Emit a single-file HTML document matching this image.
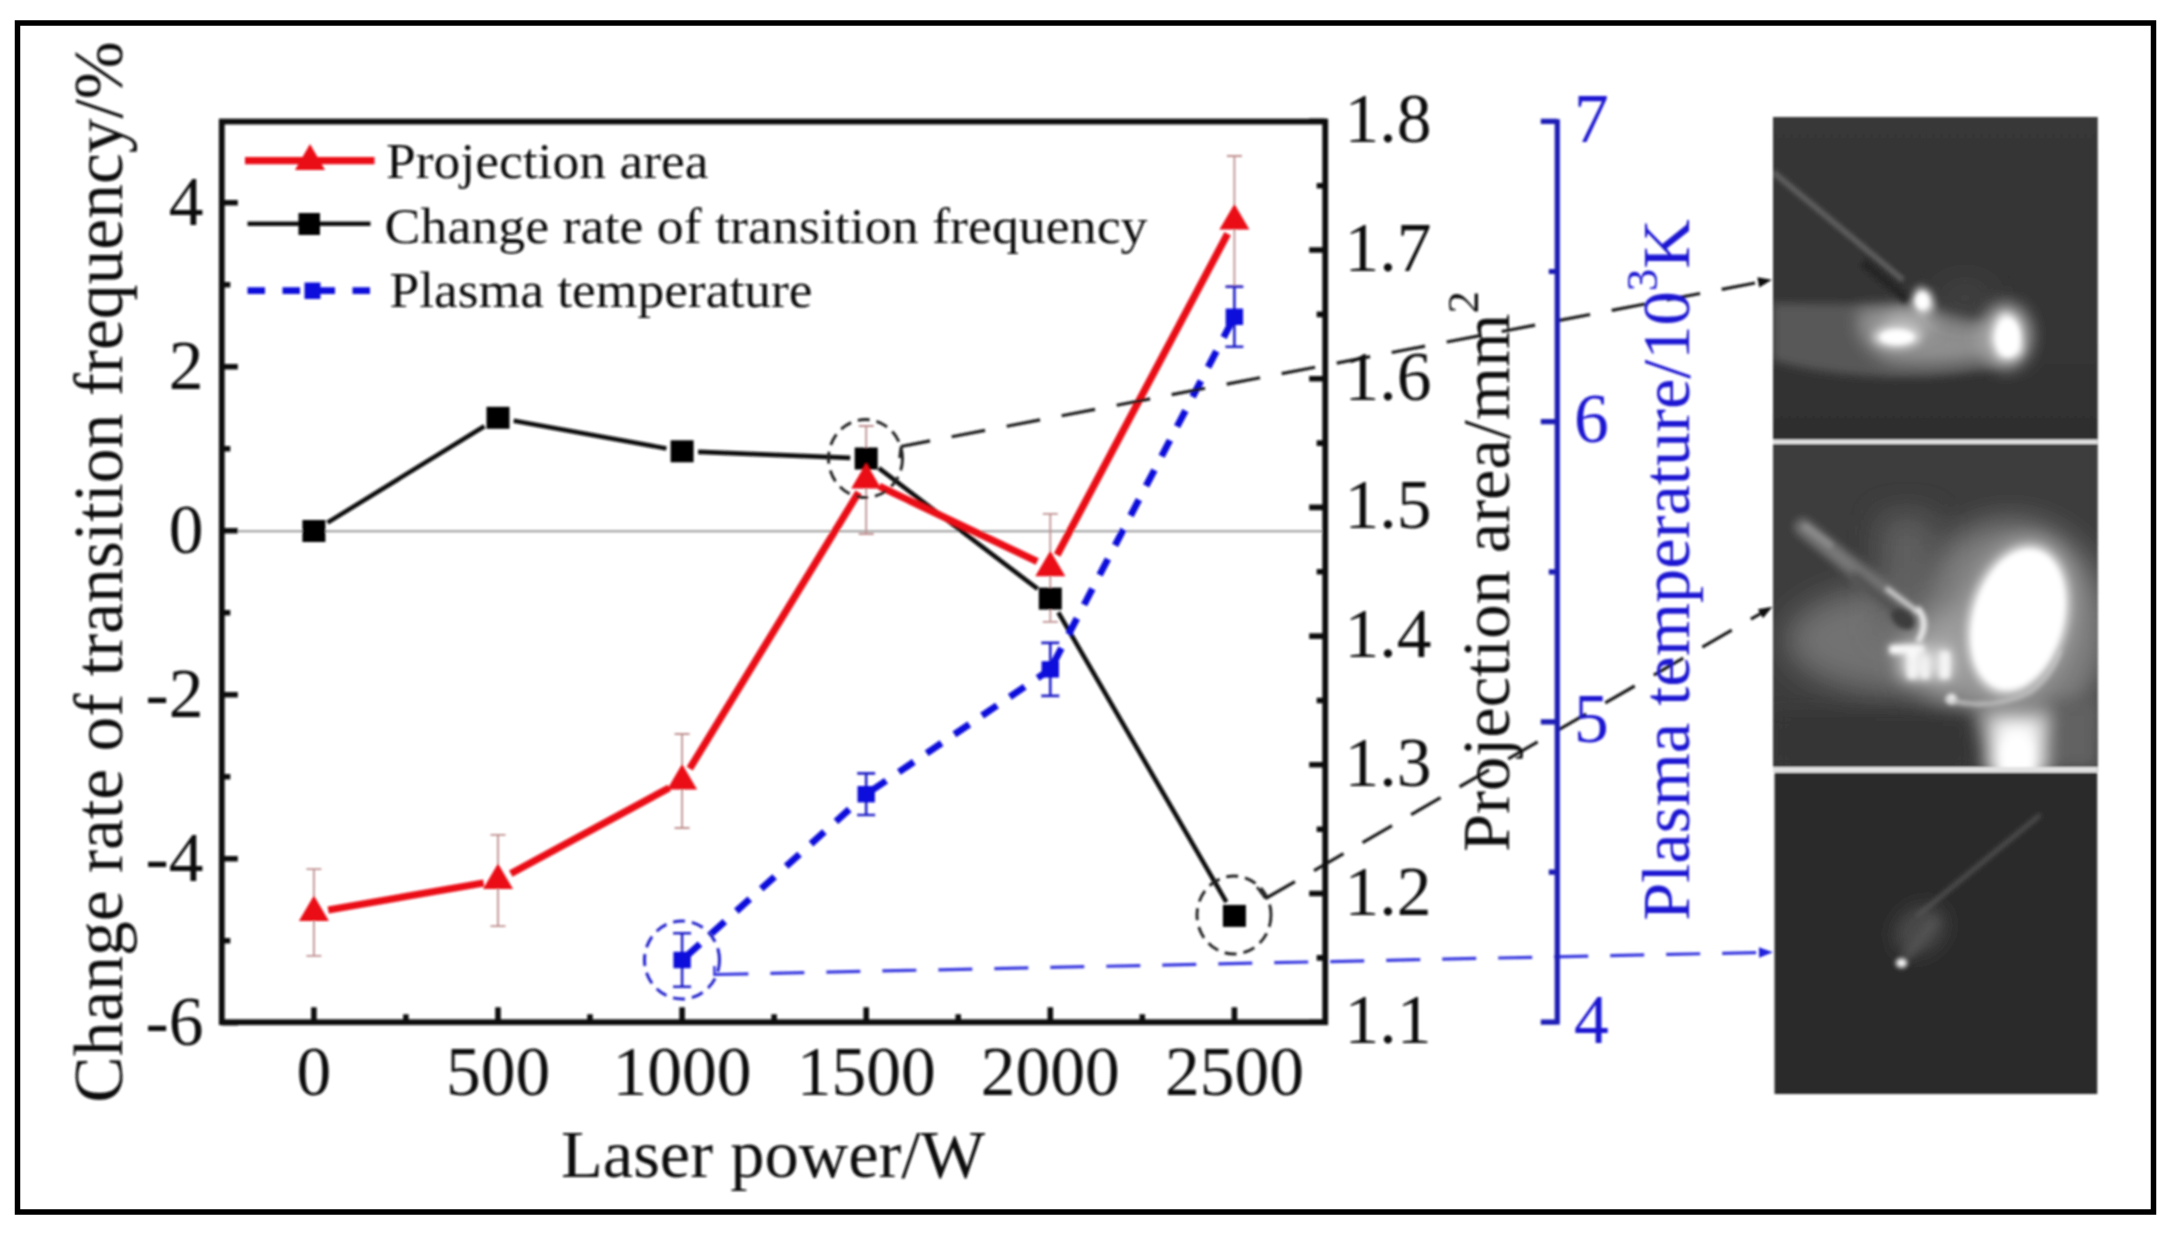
<!DOCTYPE html>
<html lang="en"><head><meta charset="utf-8"><title>Laser power chart</title>
<style>
html,body{margin:0;padding:0;background:#fff;}
body{width:2179px;height:1237px;overflow:hidden;}
svg{display:block;}
text{font-family:"Liberation Serif",serif;}
</style></head><body>
<svg width="2179" height="1237" viewBox="0 0 2179 1237">
<defs>
<filter id="soft" x="-5%" y="-5%" width="110%" height="110%"><feGaussianBlur stdDeviation="1.0"/></filter>
<filter id="b2" filterUnits="userSpaceOnUse" x="1700" y="50" width="470" height="1110"><feGaussianBlur stdDeviation="2"/></filter>
<filter id="b4" filterUnits="userSpaceOnUse" x="1700" y="50" width="470" height="1110"><feGaussianBlur stdDeviation="4"/></filter>
<filter id="b8" filterUnits="userSpaceOnUse" x="1700" y="50" width="470" height="1110"><feGaussianBlur stdDeviation="8"/></filter>
<filter id="b16" filterUnits="userSpaceOnUse" x="1700" y="50" width="470" height="1110"><feGaussianBlur stdDeviation="16"/></filter>
<linearGradient id="g1" x1="0" y1="0" x2="0" y2="1"><stop offset="0" stop-color="#373737"/><stop offset="0.75" stop-color="#343434"/><stop offset="1" stop-color="#2e2e2e"/></linearGradient>
<clipPath id="c1"><rect x="1773" y="117" width="324.5" height="323"/></clipPath>
<clipPath id="c2"><rect x="1773" y="444" width="324.5" height="323"/></clipPath>
<clipPath id="c3"><rect x="1774.3" y="772.5" width="323.2" height="321.5"/></clipPath>
</defs>
<rect width="2179" height="1237" fill="#fff"/>
<g filter="url(#soft)">

<line x1="221.8" y1="531.2" x2="1325.2" y2="531.2" stroke="#9a9a9a" stroke-width="2"/>
<path d="M313.9 869.2V955.8M306.4 869.2h15M306.4 955.8h15" stroke="#c09090" stroke-width="1.8" fill="none"/>
<path d="M498.0 834.8V926.2M490.5 834.8h15M490.5 926.2h15" stroke="#c09090" stroke-width="1.8" fill="none"/>
<path d="M682.1 734.0V828.0M674.6 734.0h15M674.6 828.0h15" stroke="#c09090" stroke-width="1.8" fill="none"/>
<path d="M866.2 426.0V534.0M858.7 426.0h15M858.7 534.0h15" stroke="#c09090" stroke-width="1.8" fill="none"/>
<path d="M1050.3 513.8V621.8M1042.8 513.8h15M1042.8 621.8h15" stroke="#c09090" stroke-width="1.8" fill="none"/>
<path d="M1234.4 156.0V286.0M1226.9 156.0h15M1226.9 286.0h15" stroke="#c09090" stroke-width="1.8" fill="none"/>
<line x1="327.5" y1="522.6" x2="484.4" y2="426.2" stroke="#111" stroke-width="4.6"/>
<line x1="513.7" y1="420.7" x2="666.4" y2="448.4" stroke="#111" stroke-width="4.6"/>
<line x1="698.1" y1="451.9" x2="850.2" y2="457.9" stroke="#111" stroke-width="4.6"/>
<line x1="878.9" y1="468.2" x2="1037.6" y2="588.9" stroke="#111" stroke-width="4.6"/>
<line x1="1058.3" y1="612.4" x2="1226.4" y2="902.1" stroke="#111" stroke-width="4.6"/>
<rect x="302.4" y="520.0" width="23" height="22" fill="#000"/>
<rect x="486.5" y="406.8" width="23" height="22" fill="#000"/>
<rect x="670.6" y="440.3" width="23" height="22" fill="#000"/>
<rect x="854.7" y="447.5" width="23" height="22" fill="#000"/>
<rect x="1038.8" y="587.6" width="23" height="22" fill="#000"/>
<rect x="1222.9" y="904.9" width="23" height="22" fill="#000"/>
<line x1="686.6" y1="956.0" x2="861.7" y2="798.2" stroke="#1010dc" stroke-width="6.8" stroke-dasharray="18 15.5"/>
<line x1="871.2" y1="790.8" x2="1045.3" y2="672.8" stroke="#1010dc" stroke-width="6.8" stroke-dasharray="18 15.5"/>
<line x1="1053.1" y1="664.1" x2="1231.6" y2="322.1" stroke="#1010dc" stroke-width="6.8" stroke-dasharray="18 15.5"/>
<path d="M682.1 933.2V986.8M673.1 933.2h18M673.1 986.8h18" stroke="#2020c8" stroke-width="2.6" fill="none"/>
<rect x="673.4" y="951.8" width="17.4" height="16.4" fill="#1010dc"/>
<path d="M866.2 773.4V815.0M857.2 773.4h18M857.2 815.0h18" stroke="#2020c8" stroke-width="2.6" fill="none"/>
<rect x="857.5" y="786.0" width="17.4" height="16.4" fill="#1010dc"/>
<path d="M1050.3 642.9V695.9M1041.3 642.9h18M1041.3 695.9h18" stroke="#2020c8" stroke-width="2.6" fill="none"/>
<rect x="1041.6" y="661.2" width="17.4" height="16.4" fill="#1010dc"/>
<path d="M1234.4 286.8V346.8M1225.4 286.8h18M1225.4 346.8h18" stroke="#2020c8" stroke-width="2.6" fill="none"/>
<rect x="1225.7" y="308.6" width="17.4" height="16.4" fill="#1010dc"/>
<line x1="328.2" y1="910.0" x2="483.7" y2="883.0" stroke="#ea0c18" stroke-width="7.2"/>
<line x1="510.8" y1="873.6" x2="669.3" y2="787.9" stroke="#ea0c18" stroke-width="7.2"/>
<line x1="689.7" y1="768.6" x2="858.6" y2="492.4" stroke="#ea0c18" stroke-width="7.2"/>
<line x1="879.3" y1="486.2" x2="1037.2" y2="561.6" stroke="#ea0c18" stroke-width="7.2"/>
<line x1="1057.1" y1="555.0" x2="1227.6" y2="233.8" stroke="#ea0c18" stroke-width="7.2"/>
<path d="M313.9 895.5L328.9 921.0H298.9Z" fill="#ea0c18"/>
<path d="M498.0 863.5L513.0 889.0H483.0Z" fill="#ea0c18"/>
<path d="M682.1 764.0L697.1 789.5H667.1Z" fill="#ea0c18"/>
<path d="M866.2 463.0L881.2 488.5H851.2Z" fill="#ea0c18"/>
<path d="M1050.3 550.8L1065.3 576.3H1035.3Z" fill="#ea0c18"/>
<path d="M1234.4 204.0L1249.4 229.5H1219.4Z" fill="#ea0c18"/>
<ellipse cx="865.5" cy="458.5" rx="37" ry="39" fill="none" stroke="#222" stroke-width="2.9" stroke-dasharray="12 7"/>
<ellipse cx="1234" cy="915" rx="37" ry="39" fill="none" stroke="#222" stroke-width="2.9" stroke-dasharray="12 7"/>
<ellipse cx="682" cy="960" rx="37.5" ry="39" fill="none" stroke="#2222cc" stroke-width="3" stroke-dasharray="12 7"/>
<path d="M899.5 458L901 446.5" fill="none" stroke="#222" stroke-width="2.6"/>
<path d="M901 446.5L1759 282.2" fill="none" stroke="#1c1c1c" stroke-width="3.2" stroke-dasharray="34 22" stroke-dashoffset="4.4"/>
<path d="M1257 887L1265.5 898.5" fill="none" stroke="#222" stroke-width="2.6"/>
<path d="M1265.5 898.5L1761 613.3" fill="none" stroke="#1c1c1c" stroke-width="3.2" stroke-dasharray="34 22"/>
<path d="M714.4 966L714.4 976" fill="none" stroke="#3a3ae0" stroke-width="2.6"/>
<path d="M714.4 974.5L1760 952.5" fill="none" stroke="#3a3ae0" stroke-width="3.2" stroke-dasharray="34 22"/>
<path d="M1772.0 279.8L1759.2 287.5L1757.3 277.3Z" fill="#111"/>
<path d="M1772.5 606.7L1763.0 618.2L1757.8 609.2Z" fill="#111"/>
<path d="M1773.0 952.2L1759.1 957.7L1758.9 947.3Z" fill="#2222dd"/>
<rect x="221.8" y="121.6" width="1103.4" height="900.6" fill="none" stroke="#111" stroke-width="5.8"/>
<path d="M313.9 1022.2v-15M498.0 1022.2v-15M682.1 1022.2v-15M866.2 1022.2v-15M1050.3 1022.2v-15M1234.4 1022.2v-15M405.9 1022.2v-8M590.0 1022.2v-8M774.1 1022.2v-8M958.2 1022.2v-8M1142.3 1022.2v-8M221.8 1022.8h16M221.8 858.8h16M221.8 694.8h16M221.8 530.8h16M221.8 366.8h16M221.8 202.8h16M221.8 940.8h8.5M221.8 776.8h8.5M221.8 612.8h8.5M221.8 448.8h8.5M221.8 284.8h8.5M1325.2 1022.2h-16M1325.2 893.5h-16M1325.2 764.8h-16M1325.2 636.1h-16M1325.2 507.4h-16M1325.2 378.7h-16M1325.2 250.0h-16M1325.2 121.3h-16M1325.2 957.9h-8.5M1325.2 829.2h-8.5M1325.2 700.5h-8.5M1325.2 571.8h-8.5M1325.2 443.1h-8.5M1325.2 314.4h-8.5M1325.2 185.7h-8.5" stroke="#111" stroke-width="5.6" fill="none"/>
<path d="M1557.3 119.3V1024.5M1557.3 1022.2h-16.5M1557.3 721.9h-16.5M1557.3 421.6h-16.5M1557.3 121.3h-16.5M1557.3 872.1h-8.5M1557.3 571.8h-8.5M1557.3 271.5h-8.5" stroke="#1c1cb6" stroke-width="5.2" fill="none"/>
<text x="313.9" y="1094.5" font-size="69.5" text-anchor="middle" fill="#111" >0</text>
<text x="498.0" y="1094.5" font-size="69.5" text-anchor="middle" fill="#111" >500</text>
<text x="682.1" y="1094.5" font-size="69.5" text-anchor="middle" fill="#111" >1000</text>
<text x="866.2" y="1094.5" font-size="69.5" text-anchor="middle" fill="#111" >1500</text>
<text x="1050.3" y="1094.5" font-size="69.5" text-anchor="middle" fill="#111" >2000</text>
<text x="1234.4" y="1094.5" font-size="69.5" text-anchor="middle" fill="#111" >2500</text>
<text x="203.5" y="1045.3" font-size="69.5" text-anchor="end" fill="#111" >-6</text>
<text x="203.5" y="881.3" font-size="69.5" text-anchor="end" fill="#111" >-4</text>
<text x="203.5" y="717.3" font-size="69.5" text-anchor="end" fill="#111" >-2</text>
<text x="203.5" y="553.3" font-size="69.5" text-anchor="end" fill="#111" >0</text>
<text x="203.5" y="389.3" font-size="69.5" text-anchor="end" fill="#111" >2</text>
<text x="203.5" y="225.3" font-size="69.5" text-anchor="end" fill="#111" >4</text>
<text x="1344.5" y="1043.2" font-size="69.5" text-anchor="start" fill="#111" >1.1</text>
<text x="1344.5" y="914.5" font-size="69.5" text-anchor="start" fill="#111" >1.2</text>
<text x="1344.5" y="785.8" font-size="69.5" text-anchor="start" fill="#111" >1.3</text>
<text x="1344.5" y="657.1" font-size="69.5" text-anchor="start" fill="#111" >1.4</text>
<text x="1344.5" y="528.4" font-size="69.5" text-anchor="start" fill="#111" >1.5</text>
<text x="1344.5" y="399.7" font-size="69.5" text-anchor="start" fill="#111" >1.6</text>
<text x="1344.5" y="271.0" font-size="69.5" text-anchor="start" fill="#111" >1.7</text>
<text x="1344.5" y="142.3" font-size="69.5" text-anchor="start" fill="#111" >1.8</text>
<text x="1574" y="1042.7" font-size="69.5" text-anchor="start" fill="#1c14d2" >4</text>
<text x="1574" y="742.4" font-size="69.5" text-anchor="start" fill="#1c14d2" >5</text>
<text x="1574" y="442.1" font-size="69.5" text-anchor="start" fill="#1c14d2" >6</text>
<text x="1574" y="141.8" font-size="69.5" text-anchor="start" fill="#1c14d2" >7</text>
<text x="773" y="1176.5" font-size="68.5" text-anchor="middle" fill="#111" >Laser power/W</text>
<text transform="translate(122,572) rotate(-90)" font-size="69.5" text-anchor="middle" fill="#111">Change rate of transition frequency/%</text>
<text transform="translate(1508.8,571.5) rotate(-90)" font-size="68.5" text-anchor="middle" fill="#111">Projection area/mm<tspan font-size="45" dy="-31">2</tspan></text>
<text transform="translate(1688.8,570) rotate(-90)" font-size="68.5" text-anchor="middle" fill="#1c14d2">Plasma temperature/10<tspan font-size="45" dy="-32">3</tspan><tspan dy="32">K</tspan></text>
<line x1="245" y1="160.6" x2="374.5" y2="160.6" stroke="#ea0c18" stroke-width="7.2"/>
<path d="M310 144L325 170H295Z" fill="#ea0c18"/>
<line x1="247.5" y1="223.7" x2="370.5" y2="223.7" stroke="#111" stroke-width="4.6"/>
<rect x="298.5" y="213" width="21.5" height="22" fill="#000"/>
<line x1="247.5" y1="290.6" x2="372" y2="290.6" stroke="#1010dc" stroke-width="6.8" stroke-dasharray="17.5 17.5"/>
<rect x="304.5" y="282.5" width="16" height="16.5" fill="#1010dc"/>
<text x="386" y="178" font-size="50" text-anchor="start" fill="#111" textLength="322.5" lengthAdjust="spacingAndGlyphs">Projection area</text>
<text x="384.5" y="242.6" font-size="50" text-anchor="start" fill="#111" textLength="763" lengthAdjust="spacingAndGlyphs">Change rate of transition frequency</text>
<text x="389.5" y="307" font-size="50" text-anchor="start" fill="#111" textLength="423" lengthAdjust="spacingAndGlyphs">Plasma temperature</text>
<rect x="1773" y="117" width="324.5" height="655" fill="#333"/>
<g clip-path="url(#c1)">
<rect x="1773" y="117" width="325" height="323" fill="url(#g1)"/>
<path d="M1773 303 L1900 305 Q1930 309 1960 318 L2000 326 L2020 362 Q1960 378 1890 377 Q1820 374 1773 360Z" fill="#585858" filter="url(#b4)"/>
<path d="M1858 310 L1915 306 Q1950 314 1990 326 L1995 356 Q1940 368 1890 362 Q1865 352 1858 330Z" fill="#909090" filter="url(#b8)"/>
<ellipse cx="1908" cy="324" rx="26" ry="11" fill="#b4b4b4" filter="url(#b8)"/>
<ellipse cx="1965" cy="298" rx="28" ry="16" fill="#444" filter="url(#b16)"/>
<line x1="1773" y1="172" x2="1903" y2="280" stroke="#6a6a6a" stroke-width="4.5" filter="url(#b2)"/>
<line x1="1863" y1="262" x2="1908" y2="300" stroke="#262626" stroke-width="10" filter="url(#b2)"/>
<path d="M1912 303 L1918 287 L1930 292 L1934 308 L1922 314Z" fill="#fff" filter="url(#b4)"/>
<ellipse cx="1922" cy="301" rx="6" ry="8" fill="#fff" filter="url(#b2)"/>
<ellipse cx="1897" cy="337" rx="24" ry="11" fill="#ddd" filter="url(#b4)"/>
<ellipse cx="1897" cy="337" rx="17" ry="7.5" fill="#fff" filter="url(#b2)"/>
<ellipse cx="2006" cy="336" rx="26" ry="33" fill="#aaa" filter="url(#b8)"/>
<path d="M2002 314 Q2018 312 2021 335 L2022 352 Q2012 362 1998 356 L1992 340 Q1994 322 2002 314Z" fill="#fff" filter="url(#b4)"/>
<ellipse cx="2008" cy="338" rx="11" ry="18" fill="#fff" filter="url(#b2)"/>
</g>
<g clip-path="url(#c2)">
<rect x="1773" y="444" width="325" height="323" fill="#3c3c3c"/>
<ellipse cx="1905" cy="640" rx="120" ry="55" fill="#727272" filter="url(#b16)"/>
<ellipse cx="2010" cy="630" rx="100" ry="110" fill="#808080" filter="url(#b16)"/>
<rect x="1880" y="515" width="54" height="120" fill="#606060" filter="url(#b16)"/>
<ellipse cx="1960" cy="650" rx="55" ry="40" fill="#a0a0a0" filter="url(#b16)"/>
<rect x="1773" y="712" width="200" height="60" fill="#363636" filter="url(#b8)"/>
<rect x="2050" y="700" width="50" height="70" fill="#626262" filter="url(#b8)"/>
<line x1="1803" y1="527" x2="1908" y2="612" stroke="#787878" stroke-width="17" stroke-linecap="round" filter="url(#b4)"/>
<line x1="1806" y1="527" x2="1830" y2="545" stroke="#8a8a8a" stroke-width="6" stroke-linecap="round" filter="url(#b2)"/>
<line x1="1852" y1="574" x2="1900" y2="614" stroke="#4c4c4c" stroke-width="9" filter="url(#b4)"/>
<line x1="1886" y1="588" x2="1918" y2="612" stroke="#d8d8d8" stroke-width="4.5" filter="url(#b2)"/>
<ellipse cx="1903" cy="619" rx="13" ry="9" fill="#3c3c3c" transform="rotate(38 1903 619)" filter="url(#b2)"/>
<path d="M1917 608 Q1930 622 1918 642" fill="none" stroke="#eee" stroke-width="6" filter="url(#b2)"/>
<ellipse cx="2018" cy="620" rx="58" ry="86" fill="#9a9a9a" transform="rotate(15 2018 620)" filter="url(#b8)"/>
<ellipse cx="2018" cy="619.5" rx="49" ry="76" fill="#e8e8e8" transform="rotate(15 2018 619.5)" filter="url(#b4)"/>
<ellipse cx="2018" cy="619.5" rx="44" ry="71" fill="#fff" transform="rotate(15 2018 619.5)" filter="url(#b2)"/>
<path d="M1890 646h34v7h-34z M1908 653h9v25h-9z M1921 656h8v22h-8z M1940 652h9v26h-9z" fill="#fff" filter="url(#b2)"/>
<rect x="1900" y="648" width="52" height="30" fill="#d0d0d0" filter="url(#b8)"/>
<path d="M1890 646h34v7h-34z M1908 653h9v25h-9z M1921 656h8v22h-8z M1940 652h9v26h-9z" fill="#fff" filter="url(#b4)"/>
<circle cx="1951.5" cy="699" r="5" fill="#fff" filter="url(#b2)"/>
<path d="M1946 699 Q1990 712 2030 692 Q2052 676 2060 650" fill="none" stroke="#c8c8c8" stroke-width="3.5" filter="url(#b2)"/>
<rect x="1985" y="712" width="66" height="62" fill="#b8b8b8" filter="url(#b8)"/>
<rect x="1996" y="722" width="42" height="56" fill="#fff" filter="url(#b8)"/>
<rect x="2002" y="742" width="30" height="30" fill="#fff" filter="url(#b4)"/>
</g>
<g clip-path="url(#c3)">
<rect x="1774.3" y="772" width="323.2" height="322" fill="#2b2b2b"/>
<ellipse cx="1920" cy="930" rx="28" ry="22" fill="#4a4a4a" transform="rotate(-40 1920 930)" filter="url(#b8)"/>
<line x1="1917" y1="916" x2="2040" y2="815" stroke="#5a5a5a" stroke-width="3.5" filter="url(#b2)"/>
<line x1="1905" y1="958" x2="1935" y2="920" stroke="#555" stroke-width="8" filter="url(#b4)"/>
<ellipse cx="1901.5" cy="963" rx="5.5" ry="4.5" fill="#fff" filter="url(#b2)"/>
</g>
<rect x="1773" y="439.5" width="324.5" height="4.5" fill="#e2e2e2"/>
<rect x="1773" y="767" width="324.5" height="5.5" fill="#e2e2e2"/>
</g>
<rect x="17.5" y="23" width="2136" height="1189" fill="none" stroke="#000" stroke-width="5.5"/>
</svg></body></html>
